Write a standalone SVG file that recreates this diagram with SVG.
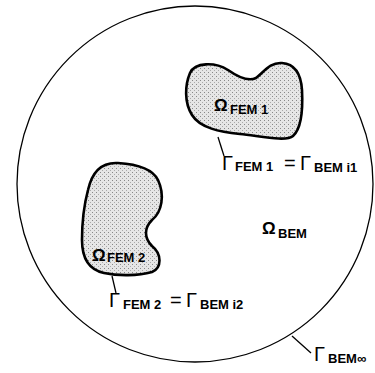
<svg xmlns="http://www.w3.org/2000/svg" width="375" height="373" viewBox="0 0 375 373">
<style>
text{font-family:"Liberation Sans",Arial,sans-serif;fill:#000}
.g{font-size:20px}
.o{font-size:17px;font-weight:bold}
.sub{font-size:13px;font-weight:bold}
.lead{stroke:#000;stroke-width:1.3;fill:none}
.blob{stroke:#000;stroke-width:2.6;fill:url(#stip)}
</style>
<defs>
<pattern id="stip" width="4" height="4" patternUnits="userSpaceOnUse">
<rect width="4" height="4" fill="#e6e6e6"/>
<rect x="0" y="0" width="1" height="1" fill="#888"/>
<rect x="2" y="2" width="1" height="1" fill="#aaa"/>
</pattern>
</defs>
<rect width="375" height="373" fill="#fff"/>
<g id="bem">
<circle cx="195" cy="184" r="178" fill="none" stroke="#000" stroke-width="1.3"/>
<text class="o" x="262" y="234">Ω</text>
<text class="sub" x="278" y="238">BEM</text>
</g>
<g id="fem1">
<path class="blob" d="M 190 73 C 195 62, 215 62, 228 70 C 238 77, 248 82, 256 78 C 264 72, 270 62, 282 63 C 295 64, 301 74, 302 90 C 303 110, 302 128, 293 136 C 286 142, 260 136, 240 134 C 220 132, 200 128, 192 115 C 184 102, 185 85, 190 73 Z"/>
<text class="o" x="214" y="111">Ω</text>
<text class="sub" x="230" y="114">FEM 1</text>
</g>
<g id="fem2">
<path class="blob" d="M 88 190 C 92 172, 102 162, 118 163 C 135 164, 152 168, 158 180 C 165 195, 162 212, 152 220 C 144 228, 144 238, 152 246 C 162 254, 162 268, 152 272 C 138 276, 118 276, 104 273 C 90 270, 82 260, 82 240 C 82 220, 84 205, 88 190 Z"/>
<text class="o" x="92" y="261">Ω</text>
<text class="sub" x="107" y="262">FEM 2</text>
</g>
<g id="connectors">
<line class="lead" x1="218" y1="137" x2="224" y2="156"/>
<line class="lead" x1="112" y1="276" x2="116" y2="293"/>
<line class="lead" x1="292" y1="336" x2="311" y2="353"/>
</g>
<g id="labels">
<text class="g" x="222" y="170">Γ</text>
<text class="sub" x="235" y="171">FEM 1</text>
<text class="g" x="284" y="170">=</text>
<text class="g" x="300" y="170">Γ</text>
<text class="sub" x="314" y="172">BEM i1</text>
<text class="g" x="109" y="307">Γ</text>
<text class="sub" x="123" y="309">FEM 2</text>
<text class="g" x="170" y="307">=</text>
<text class="g" x="186" y="307">Γ</text>
<text class="sub" x="200" y="309">BEM i2</text>
<text class="g" x="314" y="361">Γ</text>
<text class="sub" x="328" y="363">BEM∞</text>
</g>
</svg>
